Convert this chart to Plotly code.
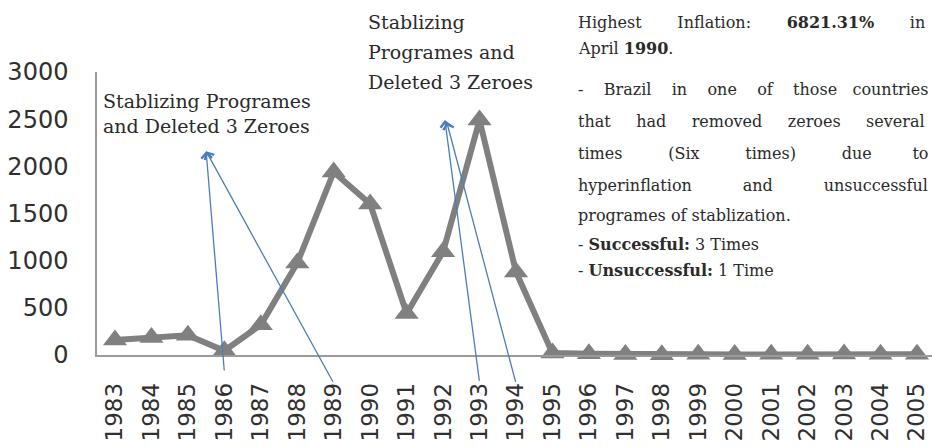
import plotly.graph_objects as go

years = list(range(1983, 2006))
inflation = [160, 185, 210, 45, 320, 975, 1940, 1600, 440, 1095, 2490, 880,
             20, 12, 6, 3, 8, 6, 8, 9, 10, 8, 7]
y_ticks = [0, 500, 1000, 1500, 2000, 2500, 3000]

W, H = 932, 447
L, R, T, B = 97, 0, 72, 92
pw, ph = W - L - R, H - T - B

def px(x):
    return (x - L) / pw

def py(y):
    return (H - B - y) / ph

fig = go.Figure()
fig.add_trace(go.Scatter(
    x=years, y=inflation, mode="lines+markers",
    line=dict(color="#808080", width=6),
    marker=dict(symbol="triangle-up", size=21, color="#808080"),
    cliponaxis=False, showlegend=False, hoverinfo="skip"))

serif = "DejaVu Serif"
tcol = "#2a2a2a"
NB = "\u00a0"

def just(words, gaps):
    out = words[0]
    for w, g in zip(words[1:], gaps):
        out += " " + NB * g + w
    return out

ann = []
ann.append(dict(text="Stablizing Programes<br>and Deleted 3 Zeroes", xref="paper", yref="paper",
                x=px(101), y=py(88), xanchor="left", yanchor="top", align="left", showarrow=False,
                font=dict(family=serif, size=19, color=tcol)))
for txt, yy in [("Stablizing", 22), ("Programes and", 52), ("Deleted 3 Zeroes", 82)]:
    ann.append(dict(text=txt, xref="paper", yref="paper",
                    x=px(366), y=py(yy), xanchor="left", yanchor="middle", align="left", showarrow=False,
                    font=dict(family=serif, size=19, color=tcol)))

lines = [
    (just(["Highest", "Inflation:", "<b>6821.31%</b>", "in"], [6, 6, 6]), 22),
    ("April <b>1990</b>.", 48),
    (just(["-", "Brazil", "in", "one", "of", "those", "countries"], [3, 3, 3, 3, 3, 2]), 89),
    (just(["that", "had", "removed", "zeroes", "several"], [4, 4, 4, 4]), 121),
    (just(["times", "(Six", "times)", "due", "to"], [8, 8, 8, 7]), 153),
    (just(["hyperinflation", "and", "unsuccessful"], [9, 9]), 185),
    ("programes of stablization.", 215),
    ("- <b>Successful:</b> 3 Times", 244),
    ("- <b>Unsuccessful:</b> 1 Time", 270),
]
for txt, yy in lines:
    ann.append(dict(text=txt, xref="paper", yref="paper", x=px(576), y=py(yy),
                    xanchor="left", yanchor="middle", align="left", showarrow=False,
                    font=dict(family=serif, size=16, color=tcol)))

arrow_col = "#4a7ebb"
heads = [(1986, 1985.5, 2160, -180), (1989, 1985.5, 2160, -300),
         (1993, 1992.05, 2490, -290), (1994, 1992.1, 2470, -300)]
for yr, hx, hy, ty in heads:
    ann.append(dict(x=hx, y=hy, ax=yr, ay=ty, xref="x", yref="y", axref="x", ayref="y",
                    showarrow=True, arrowhead=4, arrowsize=1.6, arrowwidth=1.3,
                    arrowcolor=arrow_col, text=""))

step = 36.45
fig.update_layout(
    width=W, height=H, margin=dict(l=L, r=R, t=T, b=B),
    paper_bgcolor="white", plot_bgcolor="white",
    annotations=ann,
    xaxis=dict(range=[1983 - 18 / step, 2005 + 15 / step], tickvals=years,
               ticktext=[str(y) for y in years], tickangle=-90, automargin=False,
               ticklabeloverflow="allow",
               showgrid=False, zeroline=False, showline=True, linecolor="#9a9a9a", linewidth=1.5,
               ticks="", ticklabelstandoff=17,
               tickfont=dict(family="DejaVu Sans", size=23, color="#303030")),
    yaxis=dict(range=[0, 3000], tickvals=y_ticks, showgrid=False, zeroline=False, automargin=False,
               showline=True, linecolor="#9a9a9a", linewidth=1.5, ticks="",
               ticklabelstandoff=22,
               tickfont=dict(family="DejaVu Sans", size=24, color="#303030")),
)
fig.write_html("out.html", config={"displayModeBar": False},
               post_script="document.body.style.margin='0';")
